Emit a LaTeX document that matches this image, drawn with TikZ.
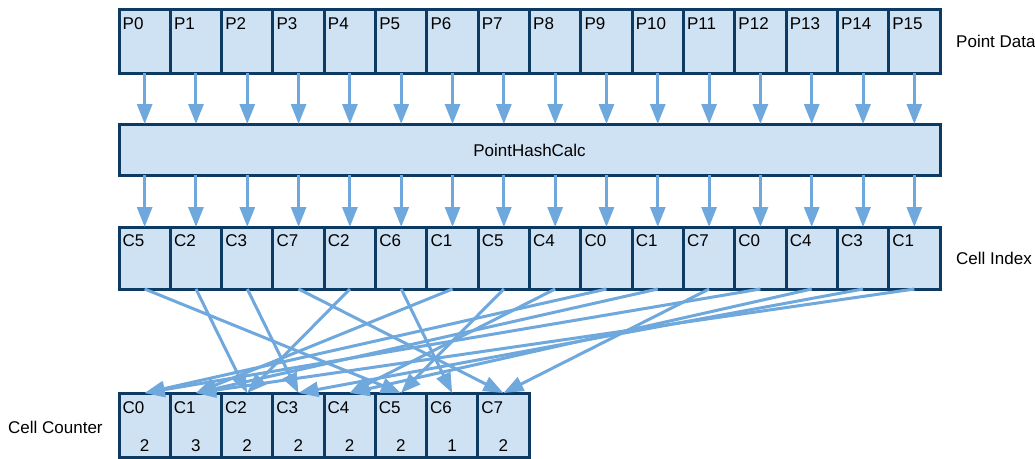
\documentclass[tikz,border=0pt]{standalone}
\usepackage{fontspec}
\setmainfont{Liberation Sans}
\usetikzlibrary{arrows.meta}
\definecolor{cellfill}{HTML}{CFE2F3}
\definecolor{cellline}{HTML}{0C3A63}
\definecolor{arrowblue}{HTML}{6FA8DC}
\begin{document}
\begin{tikzpicture}[x=1pt,y=-1pt,
  every node/.style={font=\fontsize{17}{20}\selectfont},
  cellbox/.style={draw=cellline, fill=cellfill, line width=3pt, rectangle,
    minimum width=51.3125pt, inner sep=0pt, outer sep=0pt, anchor=north west},
  celltext/.style={anchor=base west, inner sep=0pt},
  flow/.style={draw=arrowblue, line width=3pt,
    -{Triangle[length=20pt,width=15pt]}},
]
\useasboundingbox (0,0) rectangle (1035,458);

% row of point data cells
\foreach \i in {0,...,15} {
  \node[cellbox, minimum height=64pt] (p\i) at ({119+51.3125*\i}, 9) {};
  \node[celltext] (pt\i) at ({122.5+51.3125*\i}, 29.5) {P\i};
}
\node[anchor=west, inner sep=0pt] (pdlabel) at (956, 41) {Point Data};

% hash calculation stage
\node[cellbox, minimum width=821pt, minimum height=51pt] (hash) at (119, 124) {};
\node[inner sep=0pt] (hashtext) at (529.5, 150) {PointHashCalc};

% row of cell indices
\foreach \i/\c in {0/5,1/2,2/3,3/7,4/2,5/6,6/1,7/5,8/4,9/0,10/1,11/7,12/0,13/4,14/3,15/1} {
  \node[cellbox, minimum height=62pt] (c\i) at ({119+51.3125*\i}, 227) {};
  \node[celltext] (ct\i) at ({122.5+51.3125*\i}, 246.5) {C\c};
}
\node[anchor=west, inner sep=0pt] (cilabel) at (956, 258.5) {Cell Index};

% row of cell counters
\foreach \j/\n in {0/2,1/3,2/2,3/2,4/2,5/2,6/1,7/2} {
  \node[cellbox, minimum height=64pt] (k\j) at ({119+51.25*\j}, 393) {};
  \node[celltext] (kt\j) at ({122.5+51.25*\j}, 413) {C\j};
  \node[anchor=base, inner sep=0pt] (kn\j) at (k\j.center |- 0,451.5) {\n};
}
\node[anchor=west, inner sep=0pt] (cclabel) at (8, 427) {Cell Counter};

% point data -> hash -> cell index
\foreach \i in {0,...,15} {
  \draw[flow] (p\i.south) -- (p\i.south |- hash.north);
  \draw[flow] (p\i.south |- hash.south) -- (c\i.north);
}

% cell index -> cell counter
\foreach \i/\c in {0/5,1/2,2/3,3/7,4/2,5/6,6/1,7/5,8/4,9/0,10/1,11/7,12/0,13/4,14/3,15/1} {
  \draw[flow] (c\i.south) -- (k\c.north);
}
\end{tikzpicture}
\end{document}
